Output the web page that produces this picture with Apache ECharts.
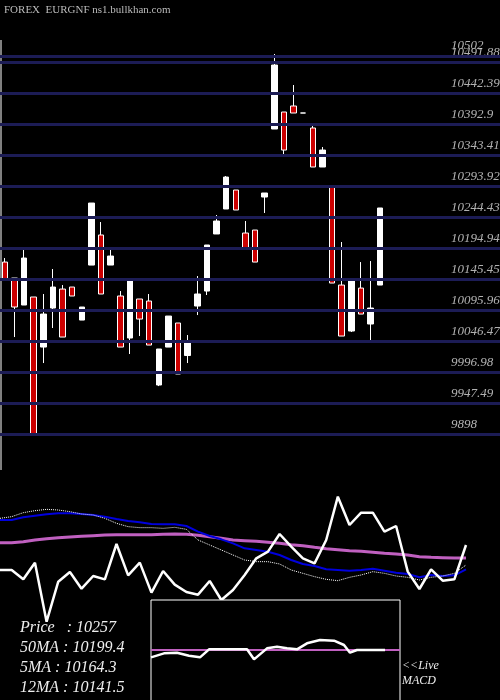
<!DOCTYPE html>
<html>
<head>
<meta charset="utf-8">
<script src="https://cdn.jsdelivr.net/npm/echarts@6/dist/echarts.min.js"></script>
<style>html,body{margin:0;padding:0;background:#000;}#root{width:500px;height:700px;}</style>
</head>
<body>
<div id="root"></div>
<script>
// price candles
var opens  = [10173,10147.5,10104.4,10117.2,10037.3,10099.6,10129.9,10133.1,10080.4,10168.2,10216.2,10168.2,10118.8,10051.7,10114,10110.8,9976.7,10037.3,10075.7,10023.8,10102.8,10126.7,10217.8,10257.7,10288,10219.3,10224.1,10276.8,10385.4,10412.5,10422.1,10410.9,10387,10324.7,10292.8,10136.3,10062.9,10131.5,10074.1,10136.3];
var closes = [10145.9,10101.2,10179.4,9898.5,10090,10133.1,10053.3,10118.8,10101.2,10267.2,10122,10182.6,10037.3,10144.3,10082,10040.5,10034.2,10086.8,9994.3,10044.5,10122,10200.2,10238.5,10308.7,10256.1,10195.4,10173,10283.2,10487.5,10351.8,10410.9,10410.9,10324.7,10351.8,10139.5,10054.9,10144.3,10090,10099.6,10259.3];
var lows   = [10146,10053.3,10104.4,9898,10011.8,10067.7,10053.3,10118.8,10080.4,10168.2,10122,10168.2,10037.3,10026.2,10054.9,10040.5,9975,10037.3,9994.3,10011.8,10088.4,10120.4,10217.8,10257.7,10256.1,10195.4,10173,10251.3,10385.4,10342.3,10410.9,10410.9,10324.7,10324.7,10139.5,10054.9,10061.3,10090,10047,10136.3];
var highs  = [10179.4,10147.5,10193.8,10117.2,10122,10161.9,10136.3,10133.1,10101.2,10267.2,10236.9,10195.4,10126.7,10144.3,10114,10122,10034.2,10086.8,10075.7,10056.5,10150.7,10200.2,10248.1,10310.3,10288,10238.5,10224.1,10283.2,10505.1,10412.5,10455.6,10410.9,10390.2,10356.6,10292.8,10205,10144.3,10173,10174.6,10259.3];
var levels = [9898,9947.49,9996.98,10046.47,10095.96,10145.45,10194.94,10244.43,10293.92,10343.41,10392.9,10442.39,10491.88,10502];
var levelLabels = ['9898','9947.49','9996.98','10046.47','10095.96','10145.45','10194.94','10244.43','10293.92','10343.41','10392.9','10442.39','10491.88','10502'];

// lower panel (indicator units)
var osc   = [390,390,362,412,235,355,384,334,372,362,468,374,412,322,387,346,324,316,357,300,330,375,425,445,498,460,425,410,480,610,525,562,562,505,522,385,333,392,358,362,465];
var maBlue = [540,540,548,553,557,560,560,558,555,550,543,537,533,528,527,527,522,505,492,482,470,455,450,445,435,420,408,402,392,390,388,390,394,388,382,378,368,375,372,374,392];
var maDot  = [545,550,562,568,572,570,565,558,555,545,530,520,517,517,515,518,512,480,465,450,435,420,415,415,408,390,380,370,362,358,368,375,385,380,372,368,360,368,372,380,405];
var maPink = [472,472,475,480,484,487,489,491,493,495,496,496,496,496,497,498,497,494,490,485,480,478,476,473,470,466,463,458,454,451,448,446,443,440,438,435,430,428,427,426,426];
var macdX = [0,13,26,38,49,58,96,103,116,126,136,146,156,169,183,193,199,206,234];
var macdY = [172,160,158,167,172,148,148,178,145,140,145,148,130,120,122,135,158,150,150];
var macdSignal = 150;

var days = opens.map(function(_, i){ return 'd' + (i + 1); });
var candles = opens.map(function(o, i){ return [o, closes[i], lows[i], highs[i]]; });
var pts = osc.map(function(_, i){ return i; });

var chart = echarts.init(document.getElementById('root'));
var serif = 'Liberation Serif';
chart.setOption({
  backgroundColor: '#000',
  animation: false,
  grid: [
    {left: -2, top: 38.4, width: 387, height: 426},
    {left: 0, top: 38.4, width: 500, height: 426},
    {left: 0, top: 490, width: 466, height: 210},
    {left: 151, top: 600, width: 249, height: 100}
  ],
  xAxis: [
    {type: 'category', gridIndex: 0, data: days, show: false},
    {type: 'value', gridIndex: 1, min: 0, max: 500, show: false},
    {type: 'category', gridIndex: 2, data: pts, boundaryGap: false, show: false},
    {type: 'value', gridIndex: 3, min: 0, max: 249, show: false}
  ],
  yAxis: [
    {type: 'value', gridIndex: 0, min: 9850, max: 10530, show: false},
    {type: 'value', gridIndex: 1, min: 9850, max: 10530, show: false},
    {type: 'value', gridIndex: 2, min: 0, max: 630, show: false},
    {type: 'value', gridIndex: 3, min: 0, max: 300, inverse: true, show: false}
  ],
  graphic: [
    {type: 'text', left: 4, top: 5, style: {text: 'FOREX  EURGNF ns1.bullkhan.com', fill: '#bbb', font: '11px ' + serif}},
    {type: 'line', shape: {x1: 1, y1: 40, x2: 1, y2: 470}, style: {stroke: '#fff', lineWidth: 1}},
    {type: 'rect', z: 10, shape: {x: 151, y: 600, width: 249, height: 110}, style: {fill: '#000', stroke: '#fff', lineWidth: 1}},
    {type: 'text', z: 12, left: 20, top: 618, style: {text: 'Price   : 10257\n50MA : 10199.4\n5MA : 10164.3\n12MA : 10141.5', fill: '#eee', font: 'italic 16px ' + serif, lineHeight: 20}},
    {type: 'text', z: 12, left: 402, top: 658, style: {text: '<<Live\nMACD', fill: '#eee', font: 'italic 12px ' + serif, lineHeight: 15}}
  ],
  series: [
    {
      type: 'line', xAxisIndex: 1, yAxisIndex: 1, data: [], silent: true,
      markLine: {
        symbol: 'none', silent: true, label: {show: false},
        lineStyle: {color: '#1c1c55', width: 3, type: 'solid'},
        data: levels.map(function(v){ return {yAxis: v}; })
      }
    },
    {
      type: 'scatter', xAxisIndex: 1, yAxisIndex: 1, symbolSize: 0, silent: true,
      data: levels.map(function(v){ return [449, v]; }),
      label: {show: true, position: 'right', distance: 2, offset: [0, -10], color: '#ddd', fontFamily: serif, fontStyle: 'italic', fontSize: 13,
        formatter: function(p){ return levelLabels[p.dataIndex]; }}
    },
    {
      type: 'candlestick', xAxisIndex: 0, yAxisIndex: 0, data: candles, barWidth: 6, z: 3,
      itemStyle: {color: '#fff', color0: '#cc0000', borderColor: '#fff', borderColor0: '#fff', borderWidth: 1}
    },
    {type: 'line', xAxisIndex: 2, yAxisIndex: 2, data: maPink, symbol: 'none', lineStyle: {color: '#c060c0', width: 3}},
    {type: 'line', xAxisIndex: 2, yAxisIndex: 2, data: maBlue, symbol: 'none', lineStyle: {color: '#0000dd', width: 2}},
    {type: 'line', xAxisIndex: 2, yAxisIndex: 2, data: maDot, symbol: 'none', lineStyle: {color: '#fff', width: 1, type: 'dotted'}},
    {type: 'line', xAxisIndex: 2, yAxisIndex: 2, data: osc, symbol: 'none', lineStyle: {color: '#fff', width: 2.5}},
    {type: 'line', xAxisIndex: 3, yAxisIndex: 3, z: 11, data: [[0, macdSignal], [249, macdSignal]], symbol: 'none', lineStyle: {color: '#c060c0', width: 2}},
    {type: 'line', xAxisIndex: 3, yAxisIndex: 3, z: 11, data: macdX.map(function(x, i){ return [x, macdY[i]]; }), symbol: 'none', lineStyle: {color: '#fff', width: 2.5}}
  ]
});
</script>
</body>
</html>
